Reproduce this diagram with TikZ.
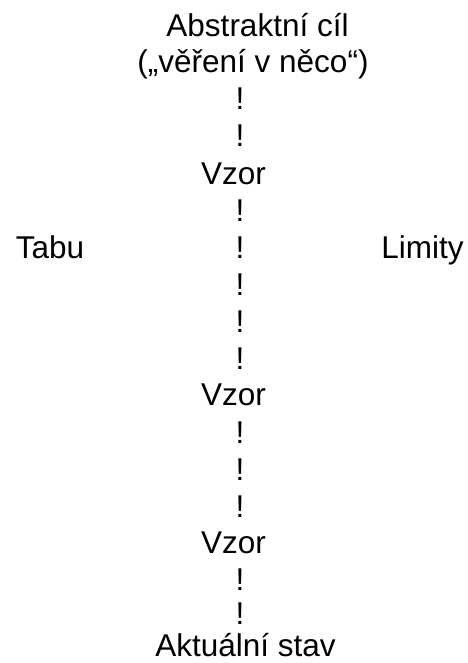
\documentclass[tikz,border=0pt]{standalone}
\usepackage{fontspec}
\setmainfont{Liberation Sans}
\begin{document}
\begin{tikzpicture}[x=1pt,y=1pt,
  lbl/.style={anchor=base,inner sep=0pt,font=\fontsize{31.5}{31.5}\selectfont}]
\useasboundingbox (0,0) rectangle (467,-663);
\node[lbl] (goal1) at (257.5,-36.5) {Abstraktní cíl};
\node[lbl] (goal2) at (253,-72.5) {(„věření v něco“)};
\node[lbl] (e1) at (240,-110) {!};
\node[lbl] (e2) at (240,-147) {!};
\node[lbl] (vzor1) at (233.5,-184.5) {Vzor};
\node[lbl] (e3) at (240,-221) {!};
\node[lbl] (tabu) at (50,-258) {Tabu};
\node[lbl] (e4) at (240,-258) {!};
\node[lbl] (limity) at (422.5,-258) {Limity};
\node[lbl] (e5) at (240,-295) {!};
\node[lbl] (e6) at (240,-332) {!};
\node[lbl] (e7) at (240,-369) {!};
\node[lbl] (vzor2) at (233.5,-405.5) {Vzor};
\node[lbl] (e8) at (240,-443) {!};
\node[lbl] (e9) at (240,-480) {!};
\node[lbl] (e10) at (240,-517) {!};
\node[lbl] (vzor3) at (233.5,-553.5) {Vzor};
\node[lbl] (e11) at (240,-590) {!};
\node[lbl] (e12) at (240,-624) {!};
\node[lbl] (stav) at (245.5,-656) {Aktuální stav};
\end{tikzpicture}
\end{document}
